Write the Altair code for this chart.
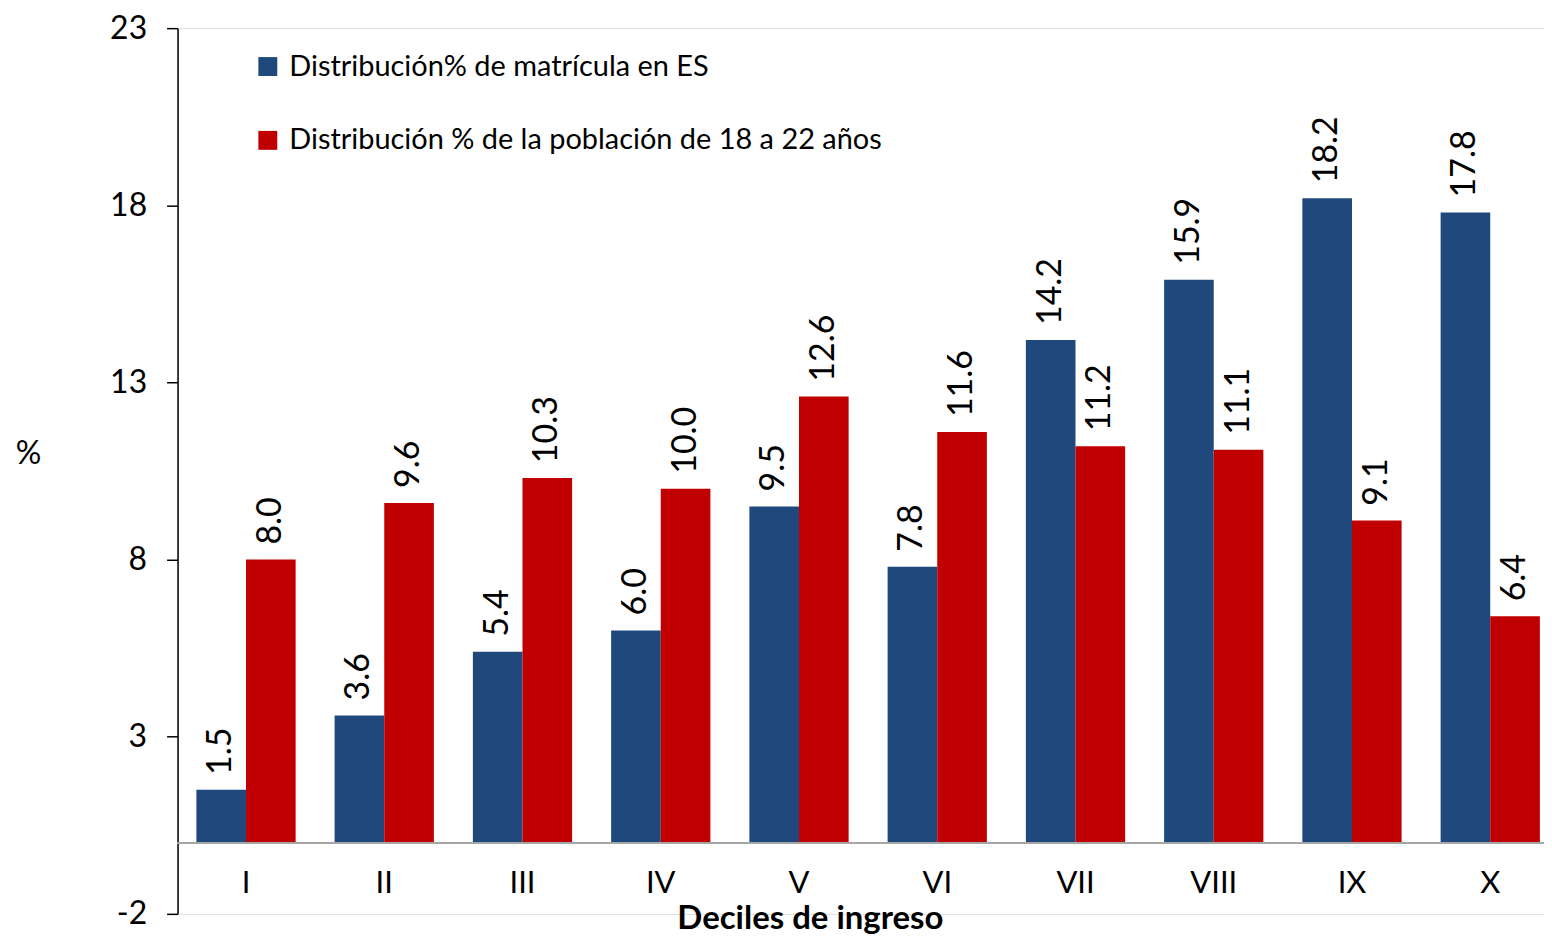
import altair as alt
import pandas as pd

deciles = ["I", "II", "III", "IV", "V", "VI", "VII", "VIII", "IX", "X"]
series = ["Distribución% de matrícula en ES",
          "Distribución % de la población de 18 a 22 años"]
matricula = [1.5, 3.6, 5.4, 6.0, 9.5, 7.8, 14.2, 15.9, 18.2, 17.8]
poblacion = [8.0, 9.6, 10.3, 10.0, 12.6, 11.6, 11.2, 11.1, 9.1, 6.4]
y_ticks = [-2, 3, 8, 13, 18, 23]
colors = ["#1F497D", "#C00000"]

rows = []
for d, m, p in zip(deciles, matricula, poblacion):
    rows.append({"decil": d, "serie": series[0], "valor": m})
    rows.append({"decil": d, "serie": series[1], "valor": p})
df = pd.DataFrame(rows)

FONT = "Lato"

x_enc = alt.X(
    "decil:N", sort=deciles,
    scale=alt.Scale(paddingInner=0.282, paddingOuter=0.083, align=0.82),
    axis=alt.Axis(orient="bottom", offset=-71, domain=False, ticks=False,
                  grid=False,
                  labelAngle=0, labelFontSize=31, labelPadding=26,
                  labelFont=FONT, labelColor="#000",
                  title="Deciles de ingreso", titleFontSize=33,
                  titleFont=FONT, titleFontWeight="bold", titleColor="#000",
                  titleX=634, titleY=76, titleAlign="center",
                  titleBaseline="middle"),
)
xo_enc = alt.XOffset("serie:N", sort=series,
                     scale=alt.Scale(paddingInner=0, paddingOuter=0))
y_scale = alt.Scale(domain=[-2, 23], nice=False, zero=False)

bars = alt.Chart(df).mark_bar().encode(
    x=x_enc,
    xOffset=xo_enc,
    y=alt.Y("valor:Q", scale=y_scale,
            axis=alt.Axis(values=y_ticks, grid=False, domainColor="#000",
                          domainWidth=1.5, tickColor="#000", tickWidth=1.5,
                          tickSize=11, labelPadding=20, labelFontSize=32,
                          labelFont=FONT, labelColor="#000",
                          labelExpr="'' + datum.value",
                          title="%", titleAngle=0, titleFontSize=32,
                          titleFont=FONT, titleFontWeight="normal",
                          titleColor="#000", titleX=-150, titleY=426,
                          titleAlign="center", titleBaseline="middle")),
    y2=alt.datum(0),
    color=alt.Color("serie:N", sort=series,
                    scale=alt.Scale(domain=series, range=colors),
                    legend=alt.Legend(orient="none", legendX=76, legendY=24,
                                      title=None, symbolType="square",
                                      symbolSize=360, symbolStrokeWidth=0,
                                      labelFontSize=29, labelFont=FONT,
                                      labelColor="#000", rowPadding=44,
                                      labelOffset=7, padding=0,
                                      labelLimit=900)),
)

labels = alt.Chart(df).mark_text(
    angle=270, align="left", baseline="middle", dx=15, fontSize=34,
    font=FONT, color="#000"
).encode(
    x=alt.X("decil:N", sort=deciles),
    xOffset=alt.XOffset("serie:N", sort=series),
    y=alt.Y("valor:Q"),
    text=alt.Text("valor:Q", format=".1f"),
)

zero = alt.Chart(df).mark_rule(color="#a6a6a6", strokeWidth=2).encode(
    y=alt.datum(0)
)

chart = alt.layer(bars, zero, labels).properties(
    width=1370, height=888,
    autosize=alt.AutoSizeParams(type="none"),
    padding={"left": 170, "top": 19, "right": 0, "bottom": 21},
).configure_view(stroke=None, strokeWidth=0).configure_axis(
    grid=False
).configure(font=FONT)

chart.save("out.html", embed_options={"renderer": "svg", "actions": False})
